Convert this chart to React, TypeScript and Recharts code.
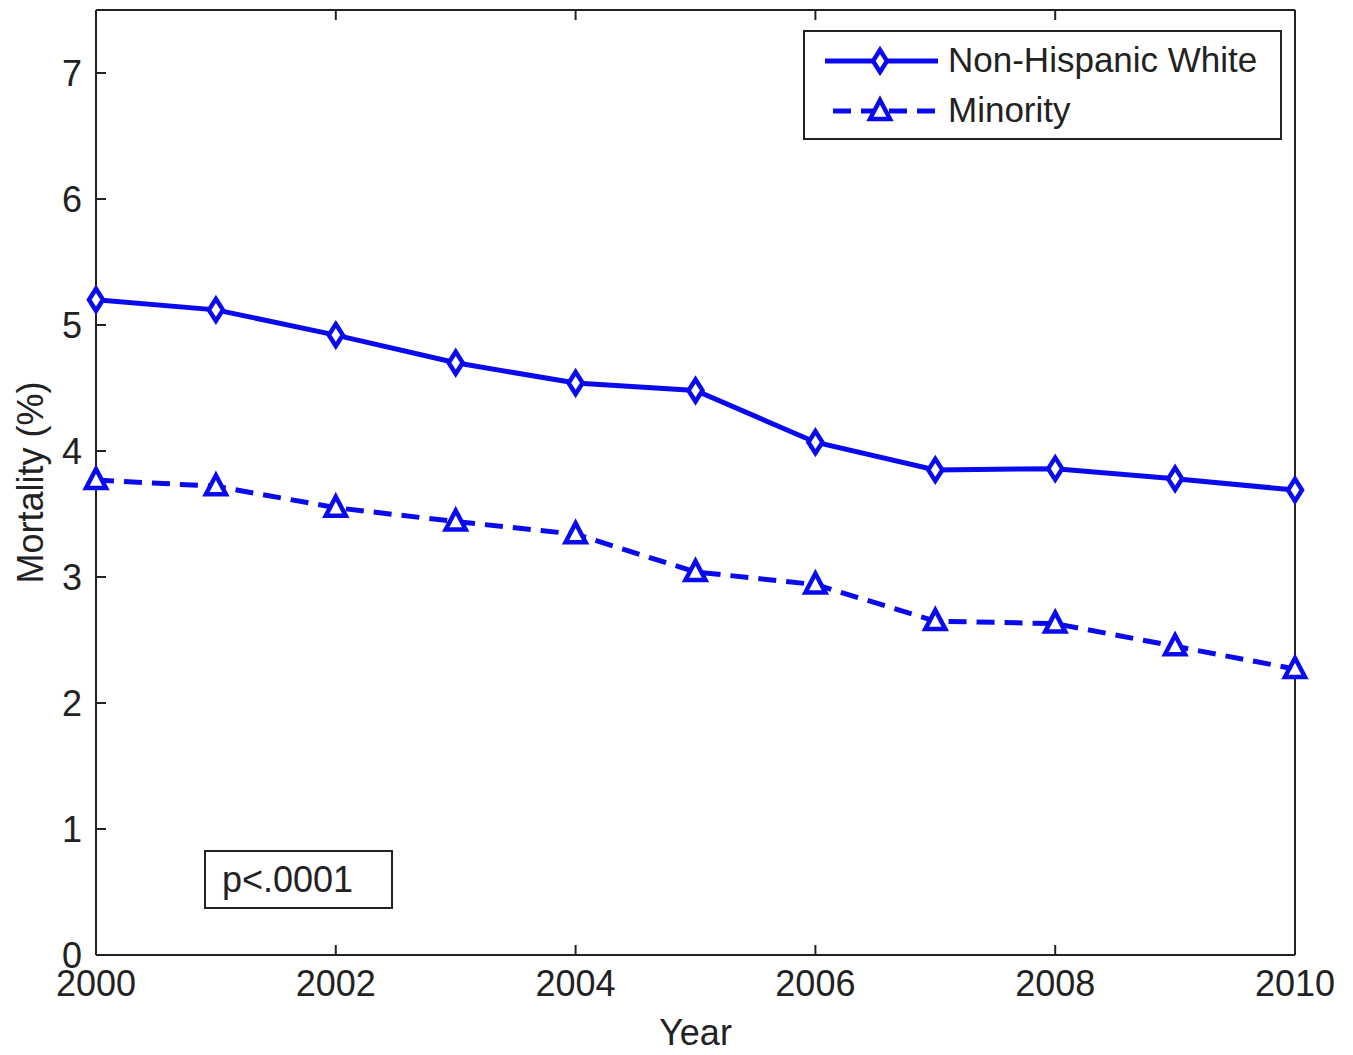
import React from "react";
import { LineChart, Line, XAxis, YAxis, Label } from "recharts";

const years = [2000, 2001, 2002, 2003, 2004, 2005, 2006, 2007, 2008, 2009, 2010];
const whiteValues = [5.2, 5.12, 4.92, 4.7, 4.54, 4.48, 4.07, 3.85, 3.86, 3.78, 3.69];
const minorityValues = [3.77, 3.72, 3.55, 3.44, 3.34, 3.04, 2.94, 2.65, 2.63, 2.45, 2.27];
const xTicks = [2000, 2002, 2004, 2006, 2008, 2010];
const yTicks = [0, 1, 2, 3, 4, 5, 6, 7];

const data = years.map((year, i) => ({
  year,
  white: whiteValues[i],
  minority: minorityValues[i],
}));

const BLUE = "#0a0aee";
const INK = "#222";
const FONT = "'Liberation Sans', Arial, sans-serif";

const Diamond = ({ cx, cy }: { cx: number; cy: number }) => (
  <polygon
    points={`${cx},${cy - 11} ${cx + 7},${cy} ${cx},${cy + 11} ${cx - 7},${cy}`}
    fill="#fff"
    stroke={BLUE}
    strokeWidth={4.5}
  />
);

const Triangle = ({ cx, cy }: { cx: number; cy: number }) => (
  <polygon
    points={`${cx},${cy - 11} ${cx + 10},${cy + 8} ${cx - 10},${cy + 8}`}
    fill="#fff"
    stroke={BLUE}
    strokeWidth={4.5}
  />
);

const tickStyle = { fill: INK, fontSize: 36, fontFamily: FONT };
const blank = () => "";

export default function App() {
  return (
    <div style={{ position: "absolute", left: 0, top: 0, width: 1353, height: 1055, background: "#fff" }}>
      <LineChart width={1353} height={1055} data={data} margin={{ top: 9, right: 57, bottom: 0, left: 0 }}>
        <XAxis
          dataKey="year"
          type="number"
          domain={[2000, 2010]}
          ticks={xTicks}
          height={100}
          tickSize={-10}
          tickMargin={25}
          tick={tickStyle}
          axisLine={{ stroke: INK, strokeWidth: 2 }}
          tickLine={{ stroke: INK, strokeWidth: 2 }}
        >
          <Label value="Year" position="insideBottom" offset={10} style={{ fill: INK, fontSize: 36, fontFamily: FONT }} />
        </XAxis>
        <XAxis
          xAxisId="top"
          dataKey="year"
          type="number"
          orientation="top"
          domain={[2000, 2010]}
          ticks={xTicks}
          height={1}
          tickSize={-10}
          tickFormatter={blank}
          axisLine={{ stroke: INK, strokeWidth: 2 }}
          tickLine={{ stroke: INK, strokeWidth: 2 }}
        />
        <YAxis
          type="number"
          domain={[0, 7.5]}
          ticks={yTicks}
          width={96}
          tickSize={-10}
          tickMargin={24}
          tick={tickStyle}
          axisLine={{ stroke: INK, strokeWidth: 2 }}
          tickLine={{ stroke: INK, strokeWidth: 2 }}
        >
          <Label
            value="Mortality (%)"
            angle={-90}
            position="insideLeft"
            offset={30}
            style={{ fill: INK, fontSize: 36, fontFamily: FONT, textAnchor: "middle" }}
          />
        </YAxis>
        <YAxis
          yAxisId="right"
          orientation="right"
          type="number"
          domain={[0, 7.5]}
          ticks={yTicks}
          width={1}
          tickSize={-10}
          tickFormatter={blank}
          axisLine={{ stroke: INK, strokeWidth: 2 }}
          tickLine={{ stroke: INK, strokeWidth: 2 }}
        />
        <Line
          dataKey="white"
          stroke={BLUE}
          strokeWidth={5}
          isAnimationActive={false}
          dot={(p: any) => <Diamond key={`d${p.index}`} cx={p.cx} cy={p.cy} />}
        />
        <Line
          dataKey="minority"
          stroke={BLUE}
          strokeWidth={5}
          strokeDasharray="18 10"
          isAnimationActive={false}
          dot={(p: any) => <Triangle key={`t${p.index}`} cx={p.cx} cy={p.cy} />}
        />
      </LineChart>

      <div
        style={{
          position: "absolute",
          left: 803,
          top: 30,
          width: 475,
          height: 106,
          border: `2px solid ${INK}`,
          background: "#fff",
          fontFamily: FONT,
          fontSize: 35,
          color: INK,
        }}
      >
        <svg width={135} height={106} style={{ position: "absolute", left: 0, top: 0 }}>
          <line x1={20} y1={29} x2={133} y2={29} stroke={BLUE} strokeWidth={5} />
          <Diamond cx={75} cy={29} />
          <line x1={28} y1={79} x2={133} y2={79} stroke={BLUE} strokeWidth={5} strokeDasharray="18 10" />
          <Triangle cx={75} cy={79} />
        </svg>
        <div style={{ position: "absolute", left: 143, top: 9, whiteSpace: "nowrap", lineHeight: "38px" }}>
          Non-Hispanic White
        </div>
        <div style={{ position: "absolute", left: 143, top: 59, whiteSpace: "nowrap", lineHeight: "38px" }}>
          Minority
        </div>
      </div>

      <div
        style={{
          position: "absolute",
          left: 204,
          top: 850,
          width: 185,
          height: 55,
          border: `2px solid ${INK}`,
          background: "#fff",
          fontFamily: FONT,
          fontSize: 36,
          color: INK,
          lineHeight: "55px",
        }}
      >
        <span style={{ position: "absolute", left: 16, top: 0 }}>p&lt;.0001</span>
      </div>
    </div>
  );
}
